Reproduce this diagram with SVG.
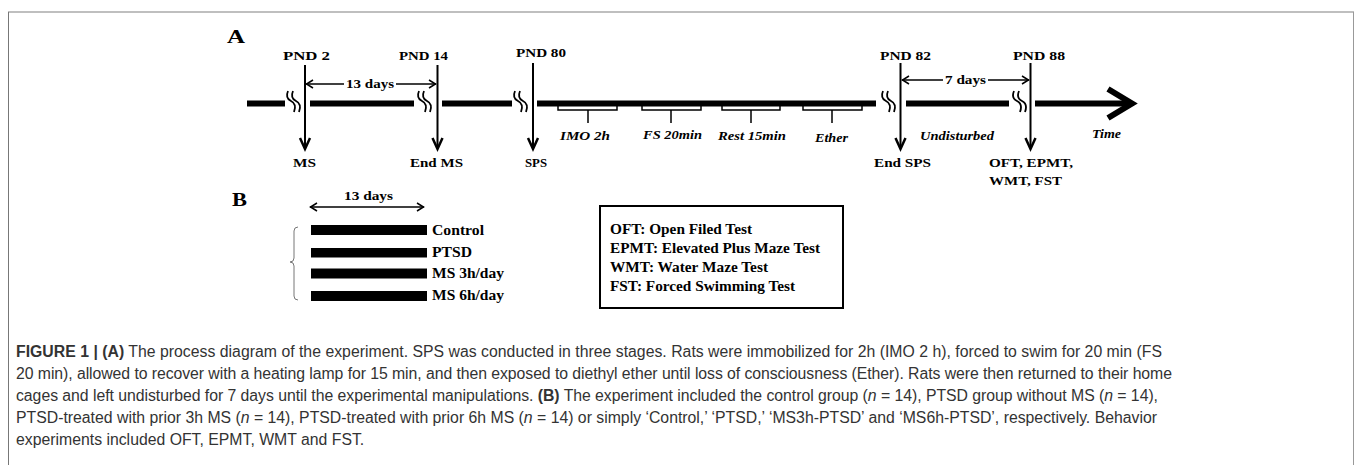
<svg xmlns="http://www.w3.org/2000/svg" width="1355" height="465" viewBox="0 0 1355 465">
<defs>
<style>
.lbl{font-family:"Liberation Serif","Times New Roman",serif;font-weight:bold;font-size:13px;fill:#000}
.it{font-family:"Liberation Serif","Times New Roman",serif;font-weight:bold;font-style:italic;font-size:13px;fill:#000}
.leg{font-family:"Liberation Serif","Times New Roman",serif;font-weight:bold;font-size:15px;fill:#000}
.big{font-family:"Liberation Serif","Times New Roman",serif;font-weight:bold;font-size:18px;fill:#000}
.cap{font-family:"Liberation Sans",Arial,sans-serif;font-size:15.8px;fill:#333}
.tl{stroke:#000;stroke-width:6;fill:none}
.ln{stroke:#000;stroke-width:2;fill:none}
.thin{stroke:#000;stroke-width:1.5;fill:none}
.brk{stroke:#000;stroke-width:1.8;fill:none}
.head{stroke:#000;stroke-width:2.5;fill:none;stroke-linejoin:miter}
.sm{stroke:#000;stroke-width:1.5;fill:none}
</style>
<path id="breakmark" d="M-6,-11 Q-9,-4 -3,-1 Q3,2 0,10 M-1,-11 Q-4,-4 2,-1 Q8,2 5,10"/>
</defs>
<rect x="0" y="0" width="1355" height="465" fill="#fff"/>
<g id="frame">
<line x1="8" y1="12" x2="1354" y2="12" stroke="#aaa" stroke-width="1.5"/>
<line x1="8.5" y1="12" x2="8.5" y2="465" stroke="#777" stroke-width="1"/>
<line x1="1353.5" y1="12" x2="1353.5" y2="465" stroke="#999" stroke-width="1"/>
</g>
<text class="big" x="227" y="43" textLength="18" lengthAdjust="spacingAndGlyphs">A</text>
<text class="big" x="232" y="206" textLength="15" lengthAdjust="spacingAndGlyphs">B</text>
<g id="connectors">
<line class="tl" x1="247" y1="103.5" x2="285" y2="103.5"/>
<line class="tl" x1="310" y1="103.5" x2="414" y2="103.5"/>
<line class="tl" x1="442" y1="103.5" x2="512" y2="103.5"/>
<line class="tl" x1="537" y1="103.5" x2="876" y2="103.5"/>
<line class="tl" x1="906" y1="103.5" x2="1009" y2="103.5"/>
<line class="tl" x1="1035" y1="103.5" x2="1128" y2="103.5"/>
<path class="tl" d="M1108,89 L1132,103.5 L1108,118"/>
<use href="#breakmark" x="294" y="102" class="brk"/>
<use href="#breakmark" x="425" y="102" class="brk"/>
<use href="#breakmark" x="521" y="102" class="brk"/>
<use href="#breakmark" x="889" y="102" class="brk"/>
<use href="#breakmark" x="1020" y="102" class="brk"/>
<line class="ln" x1="305" y1="65" x2="305" y2="148"/>
<path class="head" d="M300,138 L305,149 L310,138"/>
<line class="ln" x1="437.5" y1="65" x2="437.5" y2="148"/>
<path class="head" d="M432.5,138 L437.5,149 L442.5,138"/>
<line class="ln" x1="533" y1="63" x2="533" y2="148"/>
<path class="head" d="M528,138 L533,149 L538,138"/>
<line class="ln" x1="900.5" y1="63" x2="900.5" y2="148"/>
<path class="head" d="M895.5,138 L900.5,149 L905.5,138"/>
<line class="ln" x1="1030.5" y1="63" x2="1030.5" y2="148"/>
<path class="head" d="M1025.5,138 L1030.5,149 L1035.5,138"/>
<line class="sm" x1="306" y1="84" x2="344" y2="84"/>
<line class="sm" x1="396" y1="84" x2="436" y2="84"/>
<path class="sm" d="M313,80 L306.5,84 L313,88 M429,80 L435.5,84 L429,88"/>
<line class="sm" x1="902" y1="80" x2="943" y2="80"/>
<line class="sm" x1="988" y1="80" x2="1029" y2="80"/>
<path class="sm" d="M909,76 L902.5,80 L909,84 M1022,76 L1028.5,80 L1022,84"/>
<line class="sm" x1="310" y1="207" x2="424" y2="207"/>
<path class="sm" d="M317,203 L310.5,207 L317,211 M417,203 L423.5,207 L417,211"/>
</g>
<g id="sps-stages">
<path class="thin" d="M558,106 V110 H617 V106 M588,110 V123"/>
<path class="thin" d="M642,106 V110 H701 V106 M671,110 V123"/>
<path class="thin" d="M722,106 V110 H780 V106 M751,110 V123"/>
<path class="thin" d="M803,106 V110 H862 V106 M832,110 V123"/>
<text class="it" x="560" y="140" textLength="50" lengthAdjust="spacingAndGlyphs">IMO 2h</text>
<text class="it" x="643" y="139" textLength="59" lengthAdjust="spacingAndGlyphs">FS 20min</text>
<text class="it" x="718" y="140" textLength="68" lengthAdjust="spacingAndGlyphs">Rest 15min</text>
<text class="it" x="815" y="142" textLength="33" lengthAdjust="spacingAndGlyphs">Ether</text>
</g>
<g id="pnd2">
<text class="lbl" x="283" y="60" textLength="47" lengthAdjust="spacingAndGlyphs">PND 2</text>
<text class="lbl" x="293" y="167" textLength="23" lengthAdjust="spacingAndGlyphs">MS</text>
</g>
<g id="pnd14">
<text class="lbl" x="399" y="60" textLength="49" lengthAdjust="spacingAndGlyphs">PND 14</text>
<text class="lbl" x="410" y="167" textLength="53" lengthAdjust="spacingAndGlyphs">End MS</text>
</g>
<text class="lbl" x="346" y="88" textLength="48" lengthAdjust="spacingAndGlyphs">13 days</text>
<g id="pnd80">
<text class="lbl" x="516" y="57" textLength="50" lengthAdjust="spacingAndGlyphs">PND 80</text>
<text class="lbl" x="525" y="167" textLength="22" lengthAdjust="spacingAndGlyphs">SPS</text>
</g>
<g id="pnd82">
<text class="lbl" x="880" y="60" textLength="51" lengthAdjust="spacingAndGlyphs">PND 82</text>
<text class="lbl" x="874" y="167" textLength="57" lengthAdjust="spacingAndGlyphs">End SPS</text>
</g>
<text class="lbl" x="945" y="84" textLength="41" lengthAdjust="spacingAndGlyphs">7 days</text>
<text class="it" x="920" y="140" textLength="74" lengthAdjust="spacingAndGlyphs">Undisturbed</text>
<g id="pnd88">
<text class="lbl" x="1013" y="60" textLength="52" lengthAdjust="spacingAndGlyphs">PND 88</text>
<text class="lbl" x="989" y="167" textLength="84" lengthAdjust="spacingAndGlyphs">OFT, EPMT,</text>
<text class="lbl" x="989" y="185" textLength="73" lengthAdjust="spacingAndGlyphs">WMT, FST</text>
</g>
<text class="it" x="1092" y="138" textLength="29" lengthAdjust="spacingAndGlyphs">Time</text>
<g id="groups">
<text class="lbl" x="344" y="200" textLength="49" lengthAdjust="spacingAndGlyphs">13 days</text>
<path d="M298,227 Q294,227 294,231 V258 Q294,262 290,262 Q294,262 294,266 V296 Q294,300 298,300" stroke="#777" stroke-width="1" fill="none"/>
<g id="control"><rect x="311" y="225" width="116" height="10"/><text class="leg" x="432" y="235" textLength="52" lengthAdjust="spacingAndGlyphs">Control</text></g>
<g id="ptsd"><rect x="311" y="248" width="116" height="9.5"/><text class="leg" x="432" y="257" textLength="40" lengthAdjust="spacingAndGlyphs">PTSD</text></g>
<g id="ms3h"><rect x="311" y="268.5" width="116" height="10"/><text class="leg" x="432" y="278" textLength="72" lengthAdjust="spacingAndGlyphs">MS 3h/day</text></g>
<g id="ms6h"><rect x="311" y="291" width="116" height="10"/><text class="leg" x="432" y="300" textLength="72" lengthAdjust="spacingAndGlyphs">MS 6h/day</text></g>
</g>
<g id="legend">
<rect x="600" y="206" width="243" height="102" fill="#fff" stroke="#000" stroke-width="2"/>
<text class="leg" x="610" y="234" textLength="142" lengthAdjust="spacingAndGlyphs">OFT: Open Filed Test</text>
<text class="leg" x="610" y="253" textLength="210" lengthAdjust="spacingAndGlyphs">EPMT: Elevated Plus Maze Test</text>
<text class="leg" x="610" y="272" textLength="158" lengthAdjust="spacingAndGlyphs">WMT: Water Maze Test</text>
<text class="leg" x="610" y="291" textLength="185" lengthAdjust="spacingAndGlyphs">FST: Forced Swimming Test</text>
</g>
<g id="caption">
<text class="cap" x="16" y="357" textLength="1146" lengthAdjust="spacing"><tspan font-weight="bold">FIGURE 1 | (A)</tspan> The process diagram of the experiment. SPS was conducted in three stages. Rats were immobilized for 2h (IMO 2 h), forced to swim for 20 min (FS</text>
<text class="cap" x="16" y="379" textLength="1156" lengthAdjust="spacing">20 min), allowed to recover with a heating lamp for 15 min, and then exposed to diethyl ether until loss of consciousness (Ether). Rats were then returned to their home</text>
<text class="cap" x="16" y="401" textLength="1142" lengthAdjust="spacing">cages and left undisturbed for 7 days until the experimental manipulations. <tspan font-weight="bold">(B)</tspan> The experiment included the control group (<tspan font-style="italic">n</tspan> = 14), PTSD group without MS (<tspan font-style="italic">n</tspan> = 14),</text>
<text class="cap" x="16" y="423" textLength="1141" lengthAdjust="spacing">PTSD-treated with prior 3h MS (<tspan font-style="italic">n</tspan> = 14), PTSD-treated with prior 6h MS (<tspan font-style="italic">n</tspan> = 14) or simply ‘Control,’ ‘PTSD,’ ‘MS3h-PTSD’ and ‘MS6h-PTSD’, respectively. Behavior</text>
<text class="cap" x="16" y="445">experiments included OFT, EPMT, WMT and FST.</text>
</g>
</svg>
